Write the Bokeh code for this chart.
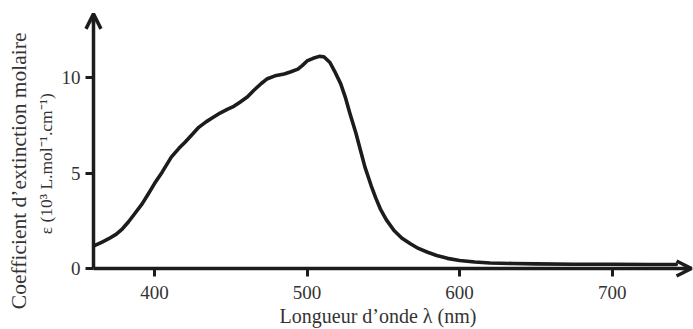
from bokeh.plotting import figure
from bokeh.models import Range1d, FixedTicker, Arrow, OpenHead, Label
from bokeh.embed import file_html
from bokeh.resources import INLINE

# Data
wavelength = [361, 366, 370, 375, 379, 383, 387, 392, 396, 400, 405, 411, 416, 420, 425,
              429, 434, 438, 443, 448, 452, 456, 461, 465, 470, 474, 479, 485, 489, 494,
              497, 500, 504, 508, 511, 515, 518, 522, 525, 528, 532, 535, 538, 542, 545,
              548, 552, 557, 562, 568, 573, 579, 585, 592, 600, 610, 620, 635, 650, 675,
              700, 725, 742]
epsilon = [1.21, 1.4, 1.56, 1.8, 2.08, 2.45, 2.87, 3.4, 3.92, 4.45, 5.05, 5.84, 6.3, 6.62, 7.05,
           7.4, 7.7, 7.9, 8.15, 8.35, 8.5, 8.72, 9.0, 9.33, 9.7, 9.95, 10.1, 10.2, 10.3, 10.45,
           10.65, 10.88, 11.02, 11.12, 11.1, 10.8, 10.35, 9.69, 9.0, 8.15, 7.1, 6.2, 5.3, 4.35, 3.7,
           3.13, 2.55, 1.99, 1.6, 1.28, 1.05, 0.85, 0.68, 0.53, 0.42, 0.34, 0.29, 0.26, 0.24, 0.22,
           0.22, 0.21, 0.21]
x_ticks = [400, 500, 600, 700]
y_ticks = [0, 5, 10]
x_label = "Longueur d\u2019onde \u03bb (nm)"
y_label_1 = "Coefficient d\u2019extinction molaire"
y_label_2 = "\u03b5 (10\u00b3 L.mol\u207b\u00b9.cm\u207b\u00b9)"

FONT = "Liberation Serif"
INK = "#1c1c1c"
TXT = "#333333"

# axis origin and arrow ends (data units)
x_origin, x_axis_end = 360, 752
y_origin, y_axis_end = 0, 13.35

p = figure(width=693, height=329, output_backend="svg", toolbar_location=None,
           x_range=Range1d(299.06, 753.3), y_range=Range1d(-3.2, 14.05),
           min_border_left=0, min_border_right=0, min_border_top=0, min_border_bottom=0)
p.outline_line_color = None
p.grid.visible = False
p.background_fill_color = "white"
p.border_fill_color = "white"

p.line(wavelength, epsilon, line_width=3.6, line_color=INK, line_join="round", line_cap="round")

for ax in (p.xaxis[0], p.yaxis[0]):
    ax.axis_line_width = 3.5
    ax.axis_line_color = INK
    ax.major_tick_line_width = 3
    ax.major_tick_line_color = INK
    ax.major_tick_in = 0
    ax.major_tick_out = 8
    ax.minor_tick_line_color = None
    ax.major_label_text_font = FONT
    ax.major_label_text_font_size = "19px"
    ax.major_label_text_color = TXT

p.xaxis.fixed_location = y_origin
p.yaxis.fixed_location = x_origin
p.xaxis.bounds = (x_origin, x_axis_end - 2)
p.yaxis.bounds = (y_origin, y_axis_end - 0.2)
p.xaxis.ticker = FixedTicker(ticks=x_ticks)
p.yaxis.ticker = FixedTicker(ticks=y_ticks)
p.xaxis.major_label_standoff = 10
p.yaxis.major_label_standoff = 5

# arrow heads at the axis ends
p.add_layout(Arrow(x_start=x_axis_end - 6, y_start=y_origin, x_end=x_axis_end, y_end=y_origin,
                   line_color=INK, line_width=3.5,
                   end=OpenHead(size=15, line_width=3.5, line_color=INK)))
p.add_layout(Arrow(x_start=x_origin, y_start=y_axis_end - 0.5, x_end=x_origin, y_end=y_axis_end,
                   line_color=INK, line_width=3.5,
                   end=OpenHead(size=15, line_width=3.5, line_color=INK)))

# axis titles
p.add_layout(Label(x=546.5, y=-2.5, text=x_label, text_font=FONT, text_font_size="20px",
                   text_color=TXT, text_align="center", text_baseline="middle"))
p.add_layout(Label(x=310.9, y=5.12, text=y_label_1, angle=1.5708, text_font=FONT,
                   text_font_size="21.5px", text_color=TXT, text_align="center",
                   text_baseline="middle"))
p.add_layout(Label(x=328.6, y=5.49, text=y_label_2, angle=1.5708, text_font=FONT,
                   text_font_size="17.5px", text_color=TXT, text_align="center",
                   text_baseline="middle"))

open("out.html", "w").write(file_html(p, INLINE))
